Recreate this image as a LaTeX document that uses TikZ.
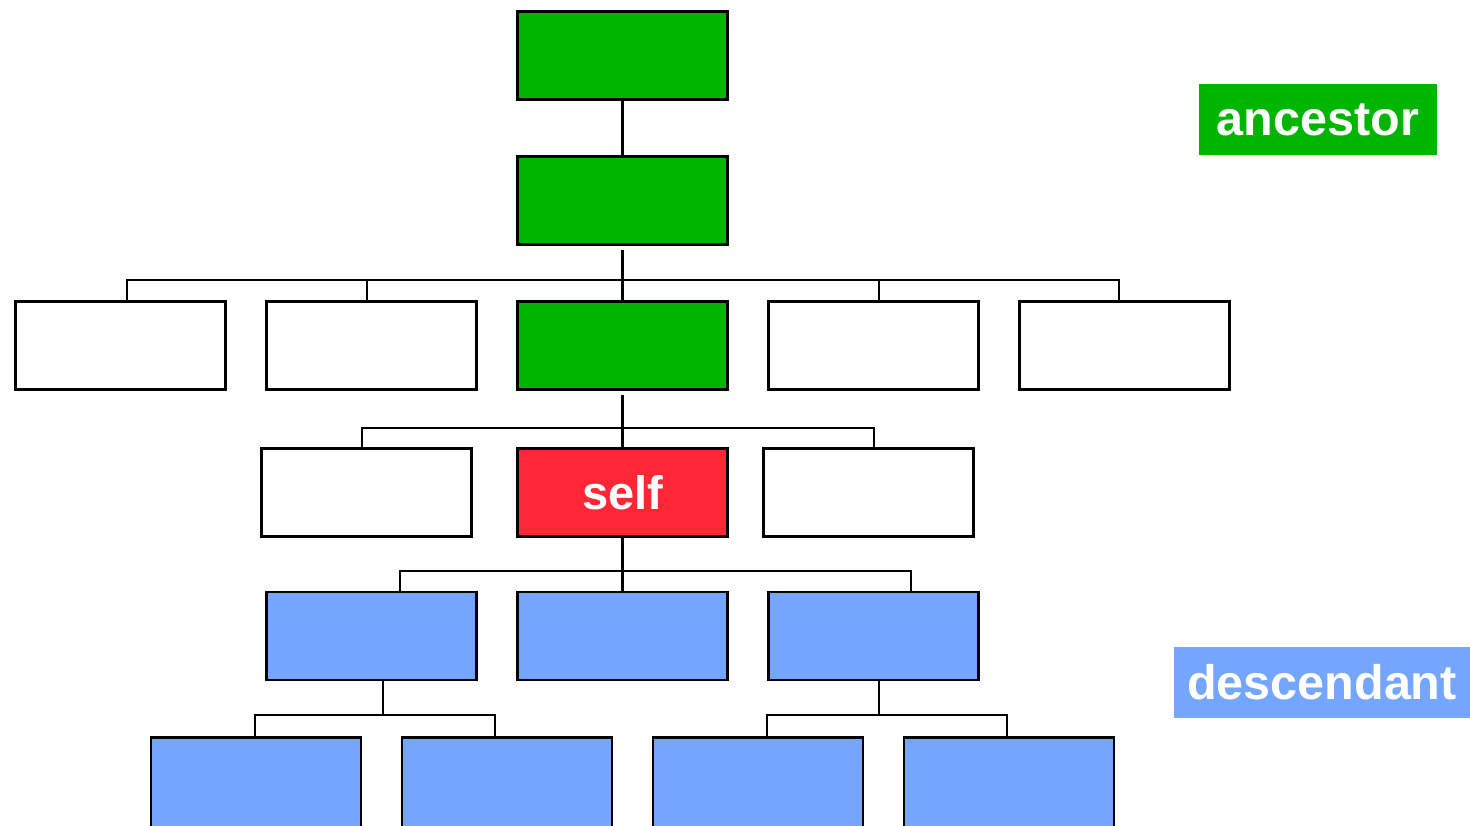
\documentclass[tikz,border=0pt]{standalone}
\usepackage{fontspec}
\setmainfont{Liberation Sans}
\usetikzlibrary{positioning, calc}

\definecolor{ancgreen}{RGB}{0,181,0}
\definecolor{selfred}{RGB}{255,38,54}
\definecolor{descblue}{RGB}{116,166,255}

\tikzset{
    treebox/.style={draw=black, line width=2.6pt, minimum width=210pt, minimum height=88pt, inner sep=0pt},
    greenbox/.style={treebox, fill=ancgreen},
    whitebox/.style={treebox, fill=white},
    bluebox/.style={treebox, fill=descblue},
    redbox/.style={treebox, fill=selfred, text=white, font=\fontsize{47}{47}\selectfont\bfseries},
    tagbox/.style={inner sep=0pt, text=white, font=\fontsize{48.5}{48.5}\selectfont\bfseries},
    link/.style={line width=2.6pt}
}

\begin{document}
\begin{tikzpicture}[x=1pt, y=-1pt]
        \useasboundingbox (0,0) rectangle (1470,825);
        \clip (0,0) rectangle (1470,825);

        % Ancestors
        \node [greenbox] (Anc1) at (622.5,55.5) {};
        \node [greenbox] (Anc2) at (622.5,200.5) {};

        % Parent level
        \node [whitebox] (Unc1) at (120.5,345.5) {};
        \node [whitebox] (Unc2) at (371.5,345.5) {};
        \node [greenbox] (Par) at (622.5,345.5) {};
        \node [whitebox] (Unc3) at (873.5,345.5) {};
        \node [whitebox] (Unc4) at (1124.5,345.5) {};

        % Self level
        \node [whitebox] (Sib1) at (366.5,492.5) {};
        \node [redbox] (Self) at (622.5,492.5) {self};
        \node [whitebox] (Sib2) at (868.5,492.5) {};

        % Children
        \node [bluebox] (Kid1) at (371.5,636) {};
        \node [bluebox] (Kid2) at (622.5,636) {};
        \node [bluebox] (Kid3) at (873.5,636) {};

        % Grandchildren (cut off at the bottom edge)
        \node [bluebox, minimum height=100pt] (Grand1) at (256,787.5) {};
        \node [bluebox, minimum height=100pt] (Grand2) at (507,787.5) {};
        \node [bluebox, minimum height=100pt] (Grand3) at (758,787.5) {};
        \node [bluebox, minimum height=100pt] (Grand4) at (1009,787.5) {};

        % Bus coordinates
        \coordinate (BusPar) at (622.5,280);
        \coordinate (BusSelf) at (622.5,428);
        \coordinate (BusKid) at (622.5,571);
        \coordinate (BusGrandL) at (383,715);
        \coordinate (BusGrandR) at (879,715);

        % Connectors
        \draw [link] (Anc1) -- (Anc2);
        \draw [link] ([yshift=-4pt]Anc2.south) -- ([yshift=-2pt]Par.north);
        \draw [link] ([xshift=6.5pt]Unc1.north) |- (BusPar) -| ([xshift=-5.5pt]Unc4.north);
        \draw [link] ([xshift=-4.5pt]Unc2.north) |- (BusPar);
        \draw [link] ([xshift=5.5pt]Unc3.north) |- (BusPar);

        \draw [link] ([yshift=-4pt]Par.south) -- ([yshift=-2pt]Self.north);
        \draw [link] ([xshift=-4.5pt]Sib1.north) |- (BusSelf) -| ([xshift=5.5pt]Sib2.north);

        \draw [link] (Self) -- (Kid2);
        \draw [link] ([xshift=28.5pt]Kid1.north) |- (BusKid) -| ([xshift=37.5pt]Kid3.north);

        \draw [link] ([xshift=11.5pt]Kid1.south) -- (BusGrandL);
        \draw [link] ([xshift=-1pt]Grand1.north) |- (BusGrandL) -| ([xshift=-12pt]Grand2.north);
        \draw [link] ([xshift=5.5pt]Kid3.south) -- (BusGrandR);
        \draw [link] ([xshift=9pt]Grand3.north) |- (BusGrandR) -| ([xshift=-2pt]Grand4.north);

        % Legend tags
        \node [tagbox, fill=ancgreen, minimum width=238pt, minimum height=71pt] (TagAnc) at (1318,119.5) {ancestor};
        \node [tagbox, fill=descblue, minimum width=296pt, minimum height=71pt] (TagDesc) at (1322,682.5) {descendant};
    \end{tikzpicture}
\end{document}
